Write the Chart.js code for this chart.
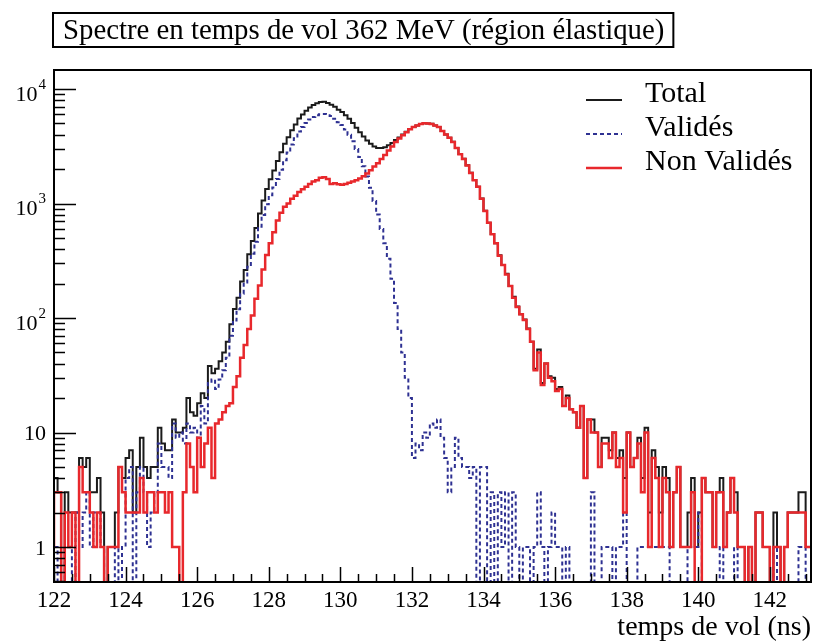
<!DOCTYPE html>
<html>
<head>
<meta charset="utf-8">
<script src="https://cdn.jsdelivr.net/npm/chart.js@4.4.1/dist/chart.umd.min.js"></script>
<style>
  html, body { margin: 0; padding: 0; background: #fff; }
  canvas { display: block; }
</style>
</head>
<body>
<canvas id="tof-chart" width="816" height="644"></canvas>
<script>
// histogram binning (ns)
const binStart = 122.0;
const binWidth = 0.1;

// counts per 0.1 ns bin, from 122.0 to 143.2 (one row per ns)
const total = [
    2, 4, 3, 0, 3, 2, 2, 2, 6, 5,
    6, 3, 3, 4, 2, 0, 1, 1, 2, 5,
    4, 6, 7, 2, 5, 9, 5, 4, 5, 5,
    11, 8, 7, 7, 13, 10, 10, 11, 20, 15,
    14, 18, 22, 20, 38, 33, 36, 42, 50, 62,
    88, 120, 150, 208, 262, 360, 470, 610, 820, 1060,
    1340, 1630, 1940, 2350, 2800, 3320, 3790, 4370, 4890, 5520,
    6000, 6450, 6900, 7250, 7500, 7700, 7750, 7550, 7300, 7000,
    6600, 6300, 5900, 5500, 5050, 4600, 4200, 3850, 3550, 3320,
    3150, 3050, 3050, 3100, 3230, 3370, 3585, 3780, 4000, 4230,
    4470, 4656, 4808, 4957, 5030, 5009, 4962, 4811, 4663, 4309,
    4006, 3753, 3455, 3059, 2706, 2455, 2155, 1854, 1605, 1400,
    1105, 865, 680, 543, 450, 353, 291, 243, 190, 153,
    126, 108, 97, 81, 62, 36, 53, 27, 40, 31,
    30, 24, 25, 17, 21, 16, 15, 11, 17, 4,
    13, 13, 10, 5, 9, 9, 7, 10, 6, 7,
    4, 10, 5, 6, 9, 4, 11, 2, 7, 5,
    2, 5, 4, 1, 3, 5, 1, 1, 2, 4,
    1, 2, 4, 3, 3, 1, 3, 4, 1, 2,
    4, 3, 1, 1, 0, 1, 0, 2, 2, 1,
    1, 0, 2, 1, 0, 1, 2, 2, 2, 3,
    3, 1
];

const valides = [
    1, 1, 0, 0, 1, 1, 0, 2, 1, 2,
    3, 1, 2, 2, 1, 0, 0, 0, 1, 0,
    1, 4, 5, 0, 3, 5, 3, 1, 2, 3,
    8, 5, 5, 4, 12, 9, 10, 8, 12, 10,
    11, 9, 17, 12, 27, 29, 24, 29, 35, 45,
    70, 95, 119, 163, 204, 280, 365, 463, 628, 795,
    985, 1180, 1380, 1640, 1970, 2385, 2790, 3270, 3720, 4260,
    4670, 5050, 5420, 5690, 5900, 6020, 6050, 5910, 5820, 5500,
    5130, 4840, 4420, 3980, 3490, 3000, 2550, 2120, 1720, 1370,
    1050, 800, 600, 450, 330, 220, 135, 80, 50, 30,
    20, 6, 8, 7, 10, 9, 12, 11, 13, 9,
    6, 3, 5, 9, 6, 5, 5, 4, 5, 0,
    5, 5, 0, 3, 0, 3, 1, 3, 0, 3,
    1, 0, 1, 1, 0, 1, 3, 1, 0, 1,
    2, 1, 1, 0, 1, 0, 0, 0, 0, 0,
    0, 3, 0, 0, 1, 1, 1, 0, 1, 1,
    2, 0, 0, 0, 1, 1, 1, 1, 1, 1,
    1, 1, 1, 0, 0, 0, 0, 0, 1, 1,
    1, 2, 0, 0, 0, 0, 0, 1, 0, 0,
    0, 1, 0, 0, 0, 0, 0, 0, 0, 0,
    0, 0, 1, 0, 0, 0, 0, 0, 0, 1,
    1, 0
];

const nonValides = [
    1, 3, 3, 0, 2, 1, 2, 0, 5, 3,
    3, 2, 1, 2, 1, 0, 1, 1, 1, 5,
    3, 2, 2, 2, 2, 4, 2, 3, 3, 2,
    3, 3, 2, 3, 1, 1, 0, 3, 8, 5,
    3, 9, 5, 8, 11, 4, 12, 13, 15, 17,
    18, 25, 31, 45, 58, 80, 105, 147, 192, 265,
    355, 450, 560, 710, 830, 935, 1000, 1100, 1170, 1260,
    1330, 1400, 1480, 1560, 1600, 1680, 1700, 1640, 1480, 1500,
    1470, 1460, 1480, 1520, 1560, 1600, 1650, 1730, 1830, 1950,
    2100, 2250, 2450, 2650, 2900, 3150, 3450, 3700, 3950, 4200,
    4450, 4650, 4800, 4950, 5020, 5000, 4950, 4800, 4650, 4300,
    4000, 3750, 3450, 3050, 2700, 2450, 2150, 1850, 1600, 1400,
    1100, 860, 680, 540, 450, 350, 290, 240, 190, 150,
    125, 108, 96, 80, 62, 35, 50, 26, 40, 30,
    28, 23, 24, 17, 20, 16, 15, 11, 17, 4,
    13, 10, 10, 5, 8, 8, 6, 10, 5, 6,
    2, 10, 5, 6, 8, 3, 10, 1, 6, 4,
    1, 4, 3, 1, 3, 5, 1, 1, 1, 3,
    0, 0, 4, 3, 3, 1, 3, 3, 1, 2,
    4, 2, 1, 1, 0, 1, 0, 2, 2, 1,
    1, 0, 1, 1, 0, 1, 2, 2, 2, 2,
    2, 1
];

// axis ranges and labels
const xMin = 122;
const xMax = 143.15;
const yMin = 0.4946;
const yMax = 14660;
const yDecades = [1, 10, 100, 1000, 10000];
const yDecadeLabels = ['1', '10', '10', '10', '10'];
const yDecadeExponents = ['', '', '2', '3', '4'];

const titleText = 'Spectre en temps de vol 362 MeV (région élastique)';
const serif = '"Liberation Serif", "Times New Roman", serif';

const black = '#1b1b1b';
const blue = '#2e3192';
const red = '#e8282c';

// zero-count bins fall below the axis floor, like ROOT drops them to the frame
const yFloor = 0.3;

function binEdge(i) {
    return +(binStart + i * binWidth).toFixed(2);
}

function toSteps(counts) {
    const pts = counts.map((c, i) => ({ x: binEdge(i), y: c > 0 ? c : yFloor }));
    pts.push({ x: binEdge(counts.length), y: pts[pts.length - 1].y });
    return pts;
}

// frame, inward ticks and y labels in ROOT style
const frameTicks = {
    id: 'frameTicks',
    afterDatasetsDraw(chart) {
        const { ctx, chartArea: a, scales } = chart;
        const xs = scales.x, ys = scales.y;
        ctx.save();
        ctx.strokeStyle = '#000';
        ctx.lineWidth = 1.5;

        // y ticks: decades long, 2..9 short
        ctx.beginPath();
        for (let e = -1; e <= 4; e++) {
            for (let m = 1; m <= 9; m++) {
                const v = m * Math.pow(10, e);
                if (v < yMin || v > yMax) continue;
                const py = Math.round(ys.getPixelForValue(v)) + 0.5;
                const len = m === 1 ? 22 : 11;
                ctx.moveTo(a.left, py);
                ctx.lineTo(a.left + len, py);
            }
        }
        // x ticks: every 0.5 ns, long every 2 ns
        for (let k = 0; k * 0.5 + xMin <= xMax; k++) {
            const v = xMin + k * 0.5;
            const px = Math.round(xs.getPixelForValue(v)) + 0.5;
            const len = k % 4 === 0 ? 15 : 8;
            ctx.moveTo(px, a.bottom);
            ctx.lineTo(px, a.bottom - len);
        }
        ctx.stroke();

        ctx.lineWidth = 2;
        ctx.strokeRect(a.left, a.top, a.right - a.left, a.bottom - a.top);

        // y labels with superscript exponents
        ctx.fillStyle = '#000';
        ctx.textBaseline = 'middle';
        ctx.textAlign = 'right';
        const labelRight = a.left - 8;
        yDecades.forEach((v, i) => {
            const py = ys.getPixelForValue(v);
            const exp = yDecadeExponents[i];
            if (exp) {
                ctx.font = '15px ' + serif;
                const w = ctx.measureText(exp).width;
                ctx.fillText(exp, labelRight, py - 4);
                ctx.font = '22px ' + serif;
                ctx.fillText(yDecadeLabels[i], labelRight - w - 1, py + 6);
            } else {
                ctx.font = '22px ' + serif;
                ctx.fillText(yDecadeLabels[i], labelRight, py + 2);
            }
        });
        ctx.restore();
    }
};

// boxed title at the top left
const titleBox = {
    id: 'titleBox',
    afterDraw(chart) {
        const { ctx } = chart;
        ctx.save();
        ctx.font = '28.8px ' + serif;
        const w = ctx.measureText(titleText).width;
        ctx.fillStyle = '#000';
        ctx.textBaseline = 'middle';
        ctx.textAlign = 'left';
        ctx.fillText(titleText, 63, 31);
        ctx.lineWidth = 2;
        ctx.strokeStyle = '#000';
        ctx.strokeRect(53, 13, w + 19, 34);
        ctx.restore();
    }
};

// legend inside the frame, top right, no box
const legendRows = {
    id: 'legendRows',
    afterDraw(chart) {
        const { ctx } = chart;
        const rowY = [94, 128, 162];
        ctx.save();
        ctx.font = '30px ' + serif;
        ctx.textBaseline = 'middle';
        ctx.textAlign = 'left';
        chart.data.datasets.forEach((ds, i) => {
            const y = rowY[i];
            ctx.strokeStyle = ds.borderColor;
            ctx.lineWidth = ds.borderWidth;
            ctx.setLineDash(ds.borderDash || []);
            ctx.beginPath();
            ctx.moveTo(586, y + 6);
            ctx.lineTo(622, y + 6);
            ctx.stroke();
            ctx.setLineDash([]);
            ctx.fillStyle = '#000';
            ctx.fillText(ds.label, 645, y);
        });
        ctx.restore();
    }
};

new Chart(document.getElementById('tof-chart'), {
    type: 'line',
    data: {
        datasets: [{
            label: 'Total',
            data: toSteps(total),
            borderColor: black,
            borderWidth: 2,
            stepped: 'after',
            pointRadius: 0,
            fill: false,
            order: 2
        }, {
            label: 'Validés',
            data: toSteps(valides),
            borderColor: blue,
            borderWidth: 2,
            borderDash: [4, 3],
            stepped: 'after',
            pointRadius: 0,
            fill: false,
            order: 1
        }, {
            label: 'Non Validés',
            data: toSteps(nonValides),
            borderColor: red,
            borderWidth: 2.5,
            stepped: 'after',
            pointRadius: 0,
            fill: false,
            order: 0
        }]
    },
    options: {
        responsive: false,
        animation: false,
        devicePixelRatio: 1,
        layout: {
            padding: { top: 70, right: 5, left: 0, bottom: 0 }
        },
        plugins: {
            legend: { display: false },
            title: { display: false },
            tooltip: { enabled: false }
        },
        scales: {
            x: {
                type: 'linear',
                min: xMin,
                max: xMax,
                grid: { display: false, drawTicks: false },
                border: { display: false },
                ticks: {
                    stepSize: 2,
                    includeBounds: false,
                    autoSkip: false,
                    maxRotation: 0,
                    padding: 5,
                    color: '#000',
                    font: { family: serif, size: 23 }
                },
                title: {
                    display: true,
                    text: 'temps de vol (ns)',
                    align: 'end',
                    color: '#000',
                    font: { family: serif, size: 28 },
                    padding: { top: 0, bottom: 0 }
                },
                afterFit(scale) { scale.height = 62; }
            },
            y: {
                type: 'logarithmic',
                min: yMin,
                max: yMax,
                grid: { display: false, drawTicks: false },
                border: { display: false },
                ticks: { display: false },
                afterFit(scale) { scale.width = 54; }
            }
        }
    },
    plugins: [frameTicks, titleBox, legendRows]
});
</script>
</body>
</html>
